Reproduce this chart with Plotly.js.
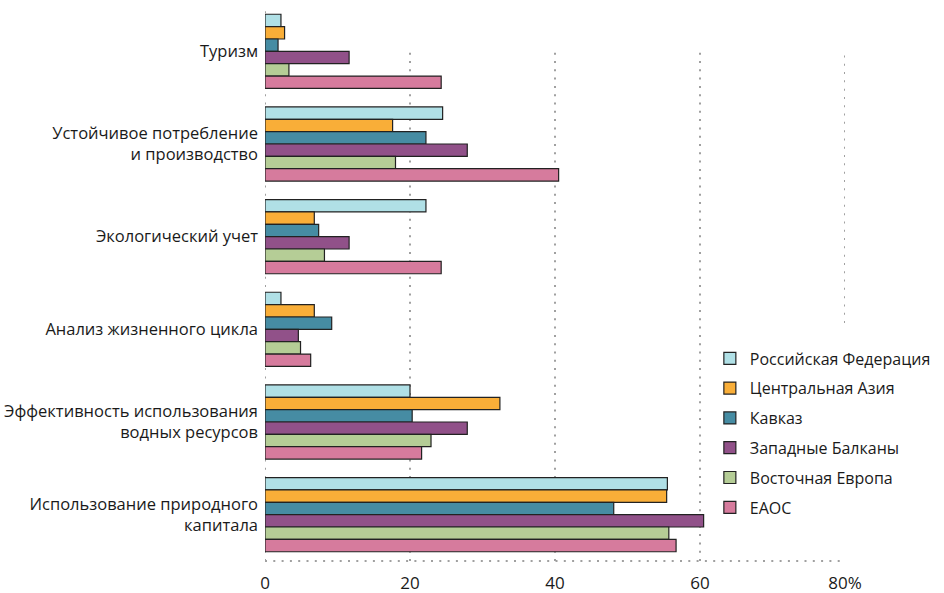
<!DOCTYPE html>
<html><head><meta charset="utf-8">
<script src="https://cdn.plot.ly/plotly-3.0.1.min.js"></script>
<style>html,body{margin:0;padding:0;background:#fff}#chart{width:944px;height:593px}</style>
</head><body><div id="chart"></div>
<script>
const categories = [
  'Туризм',
  'Устойчивое потребление<br>и производство',
  'Экологический учет',
  'Анализ жизненного цикла',
  'Эффективность использования<br>водных ресурсов',
  'Использование природного<br>капитала'
];
const seriesNames = ['Российская Федерация', 'Центральная Азия', 'Кавказ', 'Западные Балканы', 'Восточная Европа', 'ЕАОС'];
const russia      = [2.2, 24.5, 22.2, 2.2, 20.0, 55.5];
const centralAsia = [2.7, 17.6, 6.8, 6.8, 32.4, 55.4];
const caucasus    = [1.8, 22.2, 7.4, 9.2, 20.3, 48.1];
const westBalkans = [11.6, 27.9, 11.6, 4.6, 27.9, 60.5];
const eastEurope  = [3.3, 18.0, 8.2, 4.9, 22.9, 55.7];
const eea         = [24.3, 40.5, 24.3, 6.3, 21.6, 56.7];
const xTickVals = [0, 20, 40, 60, 80];
const xTickText = ['0', '20', '40', '60', '80%'];

const seriesValues = [russia, centralAsia, caucasus, westBalkans, eastEurope, eea];
const colors = ['#b0e0e6', '#f9ae38', '#468ca3', '#915189', '#b5cd96', '#d67b9d'];

const traces = seriesValues.map((vals, i) => ({
  type: 'bar',
  orientation: 'h',
  name: seriesNames[i],
  legendgroup: 'g' + i,
  x: vals,
  y: categories,
  marker: { color: colors[i], line: { color: '#222', width: 1.2 } },
  hoverinfo: 'x+name'
}));

const dotDash = '2px,6.3px';
const gridTop = 0.919;
const shapes = [];
[20, 40, 60].forEach(v => shapes.push({
  type: 'line', xref: 'x', yref: 'paper', x0: v, x1: v, y0: 0, y1: gridTop,
  line: { color: '#a0a0a0', width: 2, dash: dotDash }, layer: 'below'
}));
shapes.push({
  type: 'line', xref: 'x', yref: 'paper', x0: 80, x1: 80, y0: 0.428, y1: gridTop,
  line: { color: '#a0a0a0', width: 2, dash: dotDash }, layer: 'below'
});
shapes.push({
  type: 'line', xref: 'x', yref: 'paper', x0: 0, x1: 0, y0: 0, y1: 1,
  line: { color: '#a0a0a0', width: 2, dash: dotDash }, layer: 'below'
});
shapes.push({
  type: 'line', xref: 'x', yref: 'paper', x0: 0, x1: 80, y0: 0, y1: 0,
  line: { color: '#a0a0a0', width: 2, dash: dotDash }, layer: 'below'
});

const layout = {
  width: 944, height: 593,
  margin: { l: 265, r: 99, t: 5, b: 32, autoexpand: false },
  paper_bgcolor: '#fff', plot_bgcolor: '#fff',
  font: { family: '"Open Sans", "Noto Sans", sans-serif', size: 16.5, color: '#1a1a1a' },
  barmode: 'group', bargap: 0.2, bargroupgap: 0,
  showlegend: true,
  legend: {
    x: 0.767, xanchor: 'left', y: 0.395, yanchor: 'top',
    traceorder: 'grouped', tracegroupgap: 6,
    bgcolor: 'rgba(0,0,0,0)', font: { size: 16, color: '#1a1a1a' }
  },
  xaxis: {
    range: [0, 80], tickvals: xTickVals, ticktext: xTickText,
    showgrid: false, zeroline: false, showline: false, ticks: '',
    tickfont: { size: 17 }, ticklabelstandoff: 10, fixedrange: true, automargin: false
  },
  yaxis: {
    autorange: 'reversed', type: 'category',
    showgrid: false, zeroline: false, showline: false, ticks: '',
    tickfont: { size: 16.5 }, ticklabelstandoff: 6, fixedrange: true, automargin: false
  },
  shapes: shapes
};

Plotly.newPlot('chart', traces, layout, { displayModeBar: false, staticPlot: true });
</script>
</body></html>
